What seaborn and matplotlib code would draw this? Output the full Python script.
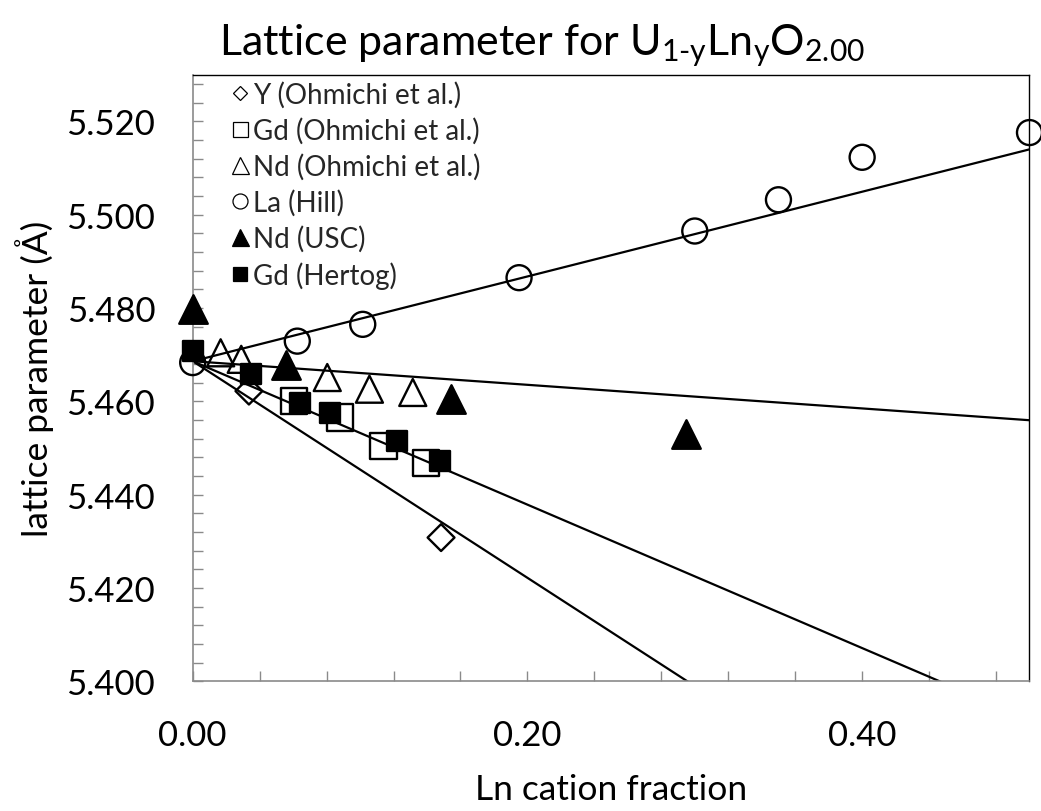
import numpy as np
import pandas as pd
import matplotlib
matplotlib.use("Agg")
import matplotlib.pyplot as plt
import seaborn as sns
from matplotlib.lines import Line2D
from matplotlib.ticker import MultipleLocator, FormatStrFormatter

# ---------------- data ----------------
y_ohm_x = [0.0336, 0.1484]
y_ohm_a = [5.4622, 5.4308]

gd_ohm_x = [0.0604, 0.0879, 0.1141, 0.1394]
gd_ohm_a = [5.4601, 5.4565, 5.4504, 5.4468]

nd_ohm_x = [0.0167, 0.0290, 0.0804, 0.1056, 0.1315]
nd_ohm_a = [5.4704, 5.4690, 5.4651, 5.4626, 5.4619]

la_hill_x = [0.0, 0.0625, 0.1016, 0.195, 0.30, 0.35, 0.40, 0.50]
la_hill_a = [5.4683, 5.4729, 5.4765, 5.4865, 5.4965, 5.5032, 5.5123, 5.5176]

nd_usc_x = [0.0, 0.0560, 0.1543, 0.2945]
nd_usc_a = [5.4797, 5.4677, 5.4604, 5.4529]

gd_her_x = [0.0, 0.0346, 0.0644, 0.0819, 0.1221, 0.1480]
gd_her_a = [5.4708, 5.4658, 5.4597, 5.4574, 5.4515, 5.4472]

# linear trend lines: a = a0 + slope * y
fit_names = ["Y", "Gd", "Nd", "La"]
fit_a0 = [5.4686, 5.4686, 5.4686, 5.4686]
fit_slope = [-0.2321, -0.1537, -0.0253, 0.0908]
fit_xrange = [0.0, 0.5]

legend_labels = ["Y (Ohmichi et al.)", "Gd (Ohmichi et al.)", "Nd (Ohmichi et al.)",
                 "La (Hill)", "Nd (USC)", "Gd (Hertog)"]

title_text = r"Lattice parameter for U$_{\mathregular{1\text{-}y}}$Ln$_{\mathregular{y}}$O$_{\mathregular{2.00}}$"
xlabel_text = "Ln cation fraction"
ylabel_text = "lattice parameter (Å)"

# ---------------- style ----------------
sns.set_theme(style="white")
FONT = "Lato"
plt.rcParams["font.family"] = [FONT, "DejaVu Sans"]
plt.rcParams["mathtext.fontset"] = "custom"
plt.rcParams["mathtext.rm"] = FONT
plt.rcParams["mathtext.it"] = FONT + ":italic"
plt.rcParams["mathtext.bf"] = FONT + ":bold"

W, H = 1041, 812
fig = plt.figure(figsize=(W / 100, H / 100), dpi=100)
fig.patch.set_facecolor("white")
L, R, T, B = 192.7, 1029.5, 75.7, 682.3
ax = fig.add_axes([L / W, (H - B) / H, (R - L) / W, (B - T) / H])
ax.set_facecolor("white")

# trend lines
for a0, sl in zip(fit_a0, fit_slope):
    xs = np.array(fit_xrange)
    sns.lineplot(x=xs, y=a0 + sl * xs, ax=ax, color="black", linewidth=1.6,
                 zorder=2, legend=False)

def pt(px):
    return px * 0.72

series = [
    (y_ohm_x, y_ohm_a, "D", pt(19.0), "none"),
    (gd_ohm_x, gd_ohm_a, "s", pt(26.5), "none"),
    (nd_ohm_x, nd_ohm_a, "^", pt(27.0), "none"),
    (la_hill_x, la_hill_a, "o", pt(25.0), "none"),
    (nd_usc_x, nd_usc_a, "^", pt(28.5), "black"),
    (gd_her_x, gd_her_a, "s", pt(20.5), "black"),
]
for xs, ys, mk, ms, fc in series:
    sns.scatterplot(x=xs, y=ys, ax=ax, marker=mk, s=ms ** 2, facecolor=fc,
                    edgecolor="black", linewidth=1.7, zorder=3, legend=False,
                    clip_on=False)

ax.set_xlim(0, 0.5)
ax.set_ylim(5.400, 5.530)
ax.xaxis.set_major_locator(MultipleLocator(0.2))
ax.xaxis.set_minor_locator(MultipleLocator(0.04))
ax.yaxis.set_major_locator(MultipleLocator(0.02))
ax.yaxis.set_minor_locator(MultipleLocator(0.004))
ax.xaxis.set_major_formatter(FormatStrFormatter("%.2f"))
ax.yaxis.set_major_formatter(FormatStrFormatter("%.3f"))

gray = "#8a8a8a"
ax.tick_params(which="both", direction="in", length=7.2, width=1.0, color=gray,
               top=False, right=False, left=True, bottom=True)
ax.tick_params(axis="both", which="major", labelsize=25, labelcolor="black", pad=27)
for s in ["left", "bottom"]:
    ax.spines[s].set_color(gray)
    ax.spines[s].set_linewidth(1.2)
for s in ["top", "right"]:
    ax.spines[s].set_color("black")
    ax.spines[s].set_linewidth(1.0)

ax.set_xlabel(xlabel_text, fontsize=25.5, color="black")
ax.xaxis.label.set_va("baseline")
ax.xaxis.set_label_coords(0.5, (B - 800) / (B - T))
ax.set_ylabel(ylabel_text, fontsize=25.5, color="black")
ax.yaxis.label.set_va("center")
ax.yaxis.set_label_coords((35 - L) / (R - L), 0.5)

fig.text(542 / W, (H - 55) / H, title_text, ha="center", va="baseline",
         fontsize=31, color="black")

# legend
handles = [
    Line2D([], [], ls="", marker="D", ms=pt(10.5), mfc="none", mec="black", mew=0.9),
    Line2D([], [], ls="", marker="s", ms=pt(15), mfc="none", mec="black", mew=0.9),
    Line2D([], [], ls="", marker="^", ms=pt(17), mfc="none", mec="black", mew=0.9),
    Line2D([], [], ls="", marker="o", ms=pt(15), mfc="none", mec="black", mew=0.9),
    Line2D([], [], ls="", marker="^", ms=pt(17), mfc="black", mec="black", mew=0.9),
    Line2D([], [], ls="", marker="s", ms=pt(13.5), mfc="black", mec="black", mew=0.9),
]
leg = ax.legend(handles, legend_labels, loc="upper left",
                bbox_to_anchor=(232 / W, (H - 82) / H), bbox_transform=fig.transFigure,
                frameon=False, fontsize=20, handlelength=0.6, handletextpad=0.15,
                labelspacing=0.33, borderpad=0, borderaxespad=0)

fig.savefig("out.png", dpi=100, facecolor="white")
